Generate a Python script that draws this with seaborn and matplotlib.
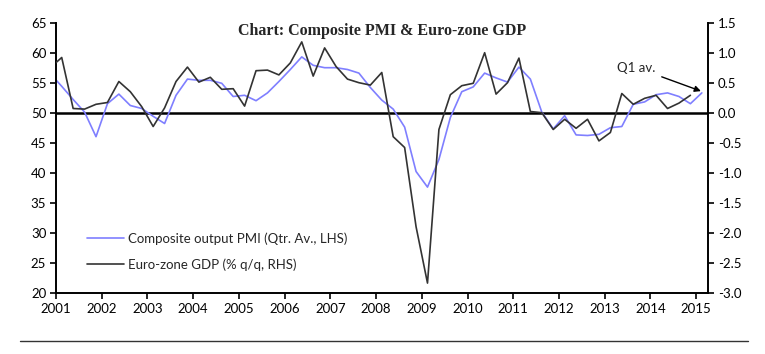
import numpy as np
import pandas as pd
import matplotlib
matplotlib.use('Agg')
import matplotlib.pyplot as plt
from matplotlib.lines import Line2D
import seaborn as sns

# Quarterly data, 2000Q4 .. 2015Q1 (2000Q4 only to start the line at the axis)
quarters = pd.period_range('2000Q4', '2015Q1', freq='Q')

# Composite output PMI (quarterly average, LHS)
pmi = [56.6,
       54.5, 52.3, 50.2, 46.1,
       51.6, 53.2, 51.3, 50.8,
       49.5, 48.3, 53.0, 55.7,
       55.5, 55.5, 55.0, 52.8,
       53.0, 52.1, 53.4, 55.3,
       57.3, 59.4, 58.0, 57.6,
       57.6, 57.3, 56.7, 54.3,
       52.2, 50.7, 47.7, 40.3,
       37.7, 42.3, 49.3, 53.6,
       54.4, 56.7, 55.9, 55.2,
       57.7, 55.7, 50.2, 47.4,
       49.6, 46.4, 46.3, 46.5,
       47.6, 47.8, 51.5, 51.9,
       53.1, 53.4, 52.8, 51.6,
       53.4]

# Euro-zone GDP (% q/q, RHS) - no 2015Q1 figure yet
gdp = [0.76,
       0.93, 0.08, 0.07, 0.15,
       0.18, 0.53, 0.36, 0.11,
       -0.22, 0.09, 0.53, 0.77,
       0.52, 0.60, 0.40, 0.41,
       0.12, 0.71, 0.72, 0.64,
       0.84, 1.19, 0.62, 1.09,
       0.78, 0.57, 0.51, 0.47,
       0.68, -0.39, -0.57, -1.89,
       -2.83, -0.27, 0.31, 0.46,
       0.50, 1.01, 0.32, 0.51,
       0.92, 0.03, 0.01, -0.27,
       -0.10, -0.25, -0.10, -0.46,
       -0.32, 0.33, 0.15, 0.25,
       0.30, 0.08, 0.17, 0.30,
       np.nan]

year_ticks = list(range(2001, 2016))
lhs_ticks = list(range(20, 66, 5))
rhs_ticks = [-3.0, -2.5, -2.0, -1.5, -1.0, -0.5, 0.0, 0.5, 1.0, 1.5]

df = pd.DataFrame({
    'x': [p.year + (p.quarter - 0.5) / 4 for p in quarters],
    'pmi': pmi,
    'gdp': gdp,
})

sns.set_style('ticks')
plt.rcParams['font.family'] = ['Lato', 'DejaVu Sans']

fig = plt.figure(figsize=(7.65, 3.54), dpi=100)
ax = fig.add_axes([56 / 765, 1 - 293.3 / 354, (708 - 56) / 765, (293.3 - 23.3) / 354])
ax2 = ax.twinx()

pmi_col = '#7f7fff'
gdp_col = '#333333'

sns.lineplot(data=df, x='x', y='pmi', ax=ax, color=pmi_col, lw=1.2,
             label='Composite output PMI (Qtr. Av., LHS)')
sns.lineplot(data=df, x='x', y='gdp', ax=ax2, color=gdp_col, lw=1.2,
             label='Euro-zone GDP (% q/q, RHS)')

ax.axhline(50, color='black', lw=1.8, zorder=1)

ax.set_xlim(2001, 2015.26)
ax.set_ylim(20, 65)
ax2.set_ylim(-3.0, 1.5)
ax.set_xticks(year_ticks)
ax.set_xticklabels([str(y) for y in year_ticks])
ax.set_yticks(lhs_ticks)
ax2.set_yticks(rhs_ticks)
ax2.set_yticklabels([f'{v:.1f}' for v in rhs_ticks])
ax.set_xlabel('')
ax.set_ylabel('')
ax2.set_ylabel('')

for a in (ax, ax2):
    a.spines['top'].set_visible(False)
    for s in ('left', 'right', 'bottom'):
        a.spines[s].set_linewidth(1.4)
        a.spines[s].set_color('black')
    a.tick_params(axis='both', direction='out', length=4, width=1.2,
                  labelsize=9.5, colors='black', pad=3)
ax.spines['right'].set_visible(False)
ax2.spines['left'].set_visible(False)
ax2.spines['bottom'].set_visible(False)

# legend with both series
h1, l1 = ax.get_legend_handles_labels()
h2, l2 = ax2.get_legend_handles_labels()
ax2.get_legend().remove()
ax.legend(h1 + h2, l1 + l2, loc='center left', bbox_to_anchor=(0.03, 0.155),
          frameon=False, fontsize=9.5, handlelength=2.8, handletextpad=0.3,
          labelspacing=1.0)

# title inside the plot area
ax.text(0.5, 1.0, 'Chart: Composite PMI & Euro-zone GDP', transform=ax.transAxes,
        ha='center', va='top', fontsize=11.5, fontweight='bold',
        family=['Liberation Serif', 'DejaVu Serif'])

# arrow to the Q1 average
ax.annotate('Q1 av.', xy=(df['x'].iloc[-1] - 0.02, pmi[-1] + 0.3),
            xytext=(2013.7, 57.6), ha='center', va='center', fontsize=9.5,
            arrowprops=dict(arrowstyle='-|>', color='black', lw=1,
                            mutation_scale=9, shrinkA=2, shrinkB=0))

# separator line at the bottom
fig.add_artist(Line2D([20 / 765, 748 / 765], [1 - 341 / 354] * 2,
                      color='#333333', lw=1))

fig.savefig('out.png', dpi=100)
